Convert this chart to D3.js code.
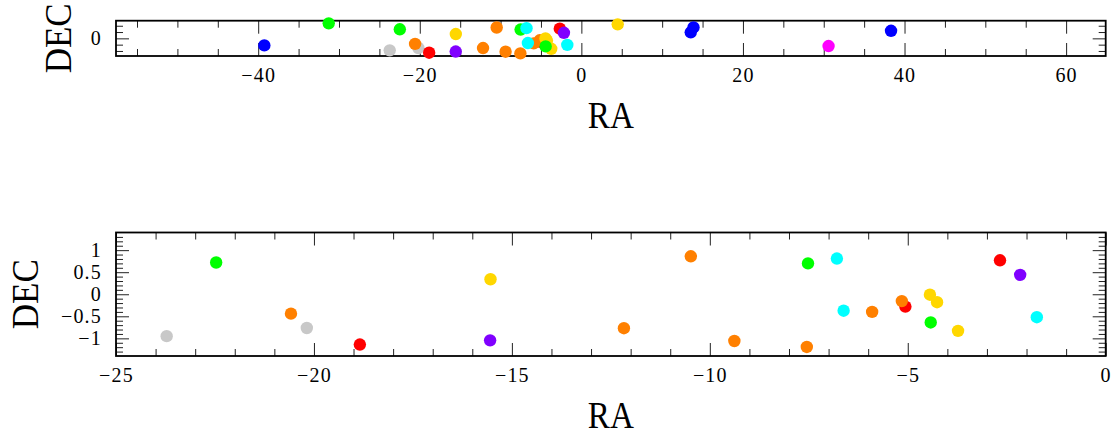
<!DOCTYPE html>
<html><head><meta charset="utf-8">
<script src="https://cdn.jsdelivr.net/npm/d3@7"></script>
<style>
html,body{margin:0;padding:0;background:#fff;}
svg{display:block;}
</style></head>
<body>
<svg id="chart" width="1114" height="436"></svg>
<script>
// ---- data (RA, DEC in degrees), grouped by colour series ----
const seriesNames = ["gray","red","orange","yellow","green","cyan","blue","purple","magenta"];
const seriesColors = ["#c8c8c8","#ff0000","#ff8000","#ffd700","#00ff00","#00ffff","#0000ff","#8000ff","#ff00ff"];
const grayRA = [-23.72, -20.18];            const grayDEC = [-0.95, -0.765];
const redRA = [-18.84, -5.06, -2.67];        const redDEC = [-1.14, -0.28, 0.77];
const orangeRA = [-20.58, -12.17, -10.48, -9.38, -7.55, -5.90, -5.15];
const orangeDEC = [-0.44, -0.77, 0.86, -1.06, -1.195, -0.40, -0.155];
const yellowRA = [-15.54, -4.44, -4.26, -3.73, 4.5];
const yellowDEC = [0.34, -0.01, -0.18, -0.83, 1.11];
const greenRA = [-31.27, -22.47, -7.52, -4.42]; const greenDEC = [1.19, 0.72, 0.70, -0.64];
const cyanRA = [-6.79, -6.62, -1.74];        const cyanDEC = [0.81, -0.373, -0.52];
const blueRA = [-39.24, 13.54, 13.88, 38.33]; const blueDEC = [-0.56, 0.48, 0.87, 0.60];
const purpleRA = [-15.55, -2.16];            const purpleDEC = [-1.045, 0.44];
const magentaRA = [30.6];                    const magentaDEC = [-0.61];

const raLists = [grayRA, redRA, orangeRA, yellowRA, greenRA, cyanRA, blueRA, purpleRA, magentaRA];
const decLists = [grayDEC, redDEC, orangeDEC, yellowDEC, greenDEC, cyanDEC, blueDEC, purpleDEC, magentaDEC];

const topXTicks = [-40, -20, 0, 20, 40, 60];
const topYTicks = [0];
const botXTicks = [-25, -20, -15, -10, -5, 0];
const botYTicks = [-1, -0.5, 0, 0.5, 1];
const botYTickLabels = ["\u22121", "\u22120.5", "0", "0.5", "1"];

// build point table
const points = [];
seriesNames.forEach((name, i) => {
  raLists[i].forEach((ra, j) => points.push({ra, dec: decLists[i][j], color: seriesColors[i]}));
});

const svg = d3.select("#chart");
const FONT = "'Liberation Serif', 'DejaVu Serif', serif";

function panel(cfg) {
  const g = svg.append("g");
  const x = d3.scaleLinear(cfg.xDomain, [cfg.left, cfg.right]);
  const y = d3.scaleLinear(cfg.yDomain, [cfg.bottom, cfg.top]);
  const H = cfg.bottom - cfg.top, W = cfg.right - cfg.left;
  const fmtMinus = d => (d < 0 ? "\u2212" + Math.abs(d) : String(d));

  const styleAxis = sel => {
    sel.select(".domain").remove();
    sel.selectAll(".tick line").attr("stroke", "#222").attr("stroke-width", 1);
    sel.selectAll(".tick text").attr("font-family", FONT).attr("font-size", 20)
       .attr("fill", "#000").attr("letter-spacing", 1.2);
  };

  // bottom axis major (labelled) + minor
  g.append("g").attr("transform", `translate(0,${cfg.bottom})`)
    .call(d3.axisBottom(x).tickValues(cfg.xTicks).tickSizeInner(-13).tickSizeOuter(0).tickPadding(12).tickFormat(fmtMinus))
    .call(styleAxis);
  g.append("g").attr("transform", `translate(0,${cfg.bottom})`)
    .call(d3.axisBottom(x).tickValues(cfg.xMinor).tickSizeInner(-7).tickSizeOuter(0).tickFormat(""))
    .call(styleAxis);
  // top axis
  g.append("g").attr("transform", `translate(0,${cfg.top})`)
    .call(d3.axisTop(x).tickValues(cfg.xTicks).tickSizeInner(-13).tickSizeOuter(0).tickFormat(""))
    .call(styleAxis);
  g.append("g").attr("transform", `translate(0,${cfg.top})`)
    .call(d3.axisTop(x).tickValues(cfg.xMinor).tickSizeInner(-7).tickSizeOuter(0).tickFormat(""))
    .call(styleAxis);
  // left axis
  g.append("g").attr("transform", `translate(${cfg.left},0)`)
    .call(d3.axisLeft(y).tickValues(cfg.yTicks).tickSizeInner(-13).tickSizeOuter(0).tickPadding(14)
      .tickFormat((d, i) => cfg.yLabels[i]))
    .call(styleAxis);
  g.append("g").attr("transform", `translate(${cfg.left},0)`)
    .call(d3.axisLeft(y).tickValues(cfg.yMinor).tickSizeInner(-7).tickSizeOuter(0).tickFormat(""))
    .call(styleAxis);
  // right axis
  g.append("g").attr("transform", `translate(${cfg.right},0)`)
    .call(d3.axisRight(y).tickValues(cfg.yTicks).tickSizeInner(-13).tickSizeOuter(0).tickFormat(""))
    .call(styleAxis);
  g.append("g").attr("transform", `translate(${cfg.right},0)`)
    .call(d3.axisRight(y).tickValues(cfg.yMinor).tickSizeInner(-7).tickSizeOuter(0).tickFormat(""))
    .call(styleAxis);

  // frame
  g.append("rect").attr("x", cfg.left).attr("y", cfg.top).attr("width", W).attr("height", H)
    .attr("fill", "none").attr("stroke", "#000").attr("stroke-width", 1.8);

  // points
  g.append("g").selectAll("circle").data(points.filter(p => p.ra >= cfg.xDomain[0] && p.ra <= cfg.xDomain[1]))
    .join("circle")
    .attr("cx", d => x(d.ra)).attr("cy", d => y(d.dec)).attr("r", 6.2)
    .attr("fill", d => d.color);

  // axis titles
  g.append("text").attr("x", (cfg.left + cfg.right) / 2).attr("y", cfg.bottom + 72)
    .attr("text-anchor", "middle").attr("font-family", FONT).attr("font-size", 37)
    .attr("textLength", 46).attr("lengthAdjust", "spacingAndGlyphs").text("RA");
  g.append("text")
    .attr("transform", `translate(${cfg.decX},${(cfg.top + cfg.bottom) / 2}) rotate(-90)`)
    .attr("text-anchor", "middle").attr("font-family", FONT).attr("font-size", 37)
    .attr("textLength", 70).attr("lengthAdjust", "spacingAndGlyphs").text("DEC");
}

const range = (a, b, s) => d3.range(Math.round(a / s), Math.round(b / s) + 1).map(k => +(k * s).toFixed(3));

panel({
  left: 116, right: 1105.7, top: 20.7, bottom: 56,
  xDomain: [-57.6, 64.9], yDomain: [-1.4, 1.4],
  xTicks: topXTicks, xMinor: range(-55, 60, 5).filter(v => !topXTicks.includes(v)),
  yTicks: topYTicks, yLabels: ["0"], yMinor: [-1, -0.5, 0.5, 1],
  decX: 70.5
});

panel({
  left: 116, right: 1105.7, top: 232.5, bottom: 356,
  xDomain: [-25, 0], yDomain: [-1.4, 1.4],
  xTicks: botXTicks, xMinor: range(-25, 0, 1).filter(v => !botXTicks.includes(v)),
  yTicks: botYTicks, yLabels: botYTickLabels,
  yMinor: range(-1.3, 1.3, 0.1).filter(v => !botYTicks.includes(v)),
  decX: 38
});
</script>
</body></html>
